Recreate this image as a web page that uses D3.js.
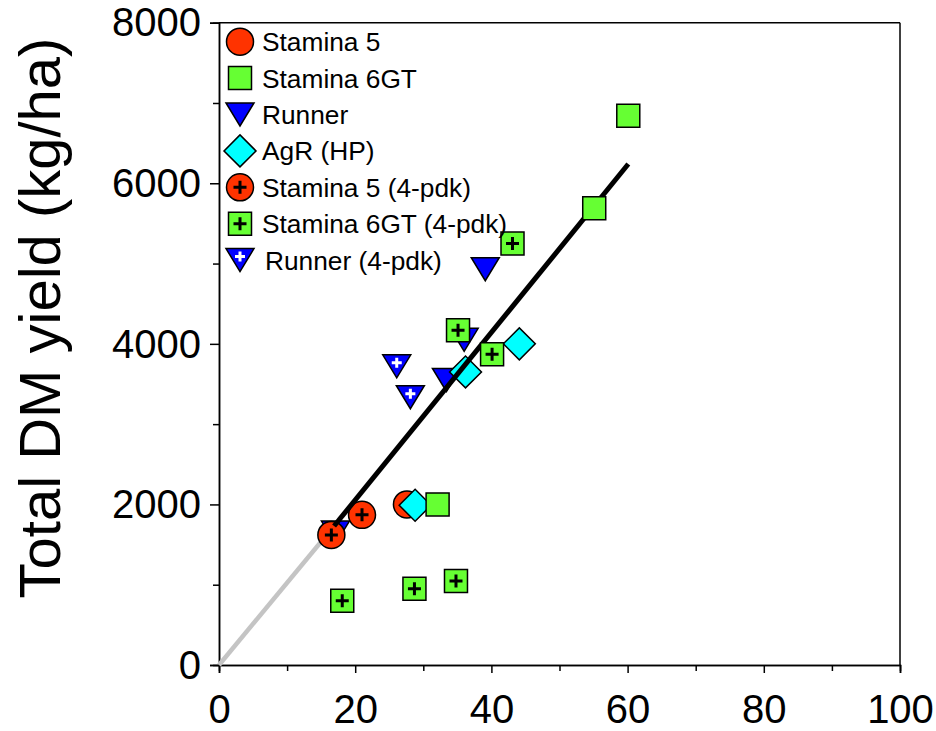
<!DOCTYPE html>
<html>
<head>
<meta charset="utf-8">
<script src="https://cdn.jsdelivr.net/npm/d3@7"></script>
<style>
  body { margin: 0; background: white; }
  text { font-family: "Liberation Sans", Arial, sans-serif; fill: black; }
</style>
</head>
<body>
<div id="container"></div>
<script>
// series values (x, total DM yield)
const stamina5X = [27.6]
const stamina5Y = [2000]
const stamina6X = [60.1, 55.1, 32.1]
const stamina6Y = [6840, 5690, 2000]
const runnerX = [17.1, 33.4, 39.1]
const runnerY = [1650, 3550, 4930]
const agrX = [44.1, 36.2, 28.8]
const agrY = [4000, 3650, 1990]
const stamina5pX = [16.5, 21.0]
const stamina5pY = [1620, 1870]
const stamina6pX = [43.1, 35.1, 40.1, 18.1, 28.7, 34.8]
const stamina6pY = [5250, 4170, 3870, 800, 950, 1045]
const runnerpX = [26.1, 28.1, 36.0]
const runnerpY = [3720, 3335, 4050]

// regression line
const fitX = [16.9, 60.1]
const fitY = [1731, 6240]
const extX = [0, 16.9]
const extY = [0, 1731]

const legendLabels = ['Stamina 5', 'Stamina 6GT', 'Runner', 'AgR (HP)', 'Stamina 5 (4-pdk)', 'Stamina 6GT (4-pdk)', 'Runner (4-pdk)']
const xTicks = [0, 20, 40, 60, 80, 100]
const xMinor = [10, 30, 50, 70, 90]
const yTicks = [0, 2000, 4000, 6000, 8000]
const yMinor = [1000, 3000, 5000, 7000]
const yTitle = 'Total DM yield (kg/ha)'

const w = 936
const h = 731
const plotLeft = 219, plotRight = 900, plotTop = 22.7, plotBottom = 665

const svg = d3.select('#container')
  .append('svg')
    .attr('width', w)
    .attr('height', h)

const scaleX = d3.scaleLinear().domain([0, 100]).range([plotLeft, plotRight])
const scaleY = d3.scaleLinear().domain([0, 8000]).range([plotBottom, plotTop])

const zip = (xs, ys) => xs.map((x, i) => [x, ys[i]])

// marker shapes
const circlePath = d3.symbol(d3.symbolCircle, Math.PI * 13.5 * 13.5)()
const squarePath = d3.symbol(d3.symbolSquare, 23 * 23)()
const diamondPath = d3.symbol(d3.symbolSquare, 22.6 * 22.6)()
const trianglePath = 'M-14,-11.5L14,-11.5L0,11.5Z'
const plusPath = 'M-6.5,0H6.5M0,-6.5V6.5'
const smallPlus = 'M-5,0H5M0,-5V5'

const drawMarker = (g, kind) => {
  if (kind === 'circle' || kind === 'circlePlus') {
    g.append('path').attr('d', circlePath).attr('fill', '#ff3300')
  } else if (kind === 'square' || kind === 'squarePlus') {
    g.append('path').attr('d', squarePath).attr('fill', '#66ff33')
  } else if (kind === 'triangle' || kind === 'trianglePlus') {
    g.append('path').attr('d', trianglePath).attr('fill', '#0000ff')
  } else if (kind === 'diamond') {
    g.append('path').attr('d', diamondPath).attr('transform', 'rotate(45)').attr('fill', '#00ffff')
  }
  g.select('path').attr('stroke', 'black').attr('stroke-width', 1.5)
  if (kind === 'circlePlus' || kind === 'squarePlus') {
    g.append('path').attr('d', plusPath).attr('stroke', 'black').attr('stroke-width', 3)
  }
  if (kind === 'trianglePlus') {
    g.append('path').attr('d', smallPlus).attr('transform', 'translate(0,-3.5)')
      .attr('stroke', 'white').attr('stroke-width', 3)
  }
}

const drawSeries = (xs, ys, kind) => {
  svg.append('g').selectAll('g')
    .data(zip(xs, ys))
    .enter()
    .append('g')
      .attr('transform', d => `translate(${scaleX(d[0])},${scaleY(d[1])})`)
      .each(function () { drawMarker(d3.select(this), kind) })
}

// axes
const axisY = d3.axisLeft(scaleY).tickValues(yTicks).tickSize(9).tickPadding(9).tickFormat(d3.format('d'))
const axisYMinor = d3.axisLeft(scaleY).tickValues(yMinor).tickSize(6).tickFormat('')
const axisX = d3.axisBottom(scaleX).tickValues(xTicks).tickSize(8).tickPadding(22).tickFormat(d3.format('d'))
const axisXMinor = d3.axisBottom(scaleX).tickValues(xMinor).tickSize(6).tickFormat('')

const styleAxis = sel => {
  sel.selectAll('path, line').attr('stroke', 'black').attr('stroke-width', 1.5)
  sel.selectAll('text').style('font-size', '40px').style('font-family', '"Liberation Sans", Arial, sans-serif').attr('fill', 'black')
}

svg.append('g').attr('transform', `translate(${plotLeft},0)`).call(axisY).call(styleAxis)
  .call(g => g.selectAll('text').attr('dy', '0.33em'))
svg.append('g').attr('transform', `translate(${plotLeft},0)`).call(axisYMinor).call(styleAxis)
svg.append('g').attr('transform', `translate(0,${plotBottom})`).call(axisX).call(styleAxis)
  .call(g => g.selectAll('text').attr('dy', '0.71em'))
svg.append('g').attr('transform', `translate(0,${plotBottom})`).call(axisXMinor).call(styleAxis)

// frame top and right
svg.append('line').attr('x1', plotLeft).attr('x2', plotRight).attr('y1', plotTop).attr('y2', plotTop)
  .attr('stroke', 'black').attr('stroke-width', 1.5)
svg.append('line').attr('x1', plotRight).attr('x2', plotRight).attr('y1', plotTop).attr('y2', plotBottom)
  .attr('stroke', 'black').attr('stroke-width', 1.5)

const line = d3.line().x(d => scaleX(d[0])).y(d => scaleY(d[1]))

// grey extension goes under the markers
svg.append('path').datum(zip(extX, extY)).attr('d', line)
  .attr('fill', 'none').attr('stroke', '#c4c4c4').attr('stroke-width', 4.5)

drawSeries(stamina5X, stamina5Y, 'circle')
drawSeries(runnerX, runnerY, 'triangle')
drawSeries(agrX, agrY, 'diamond')
drawSeries(stamina5pX, stamina5pY, 'circlePlus')
drawSeries(runnerpX, runnerpY, 'trianglePlus')

svg.append('path').datum(zip(fitX, fitY)).attr('d', line)
  .attr('fill', 'none').attr('stroke', 'black').attr('stroke-width', 5)

drawSeries(stamina6X, stamina6Y, 'square')
drawSeries(stamina6pX, stamina6pY, 'squarePlus')

// legend
const legendKinds = ['circle', 'square', 'triangle', 'diamond', 'circlePlus', 'squarePlus', 'trianglePlus']
const legend = svg.append('g')
legendLabels.forEach((label, i) => {
  const cy = 41.7 + i * 36.4
  const g = legend.append('g').attr('transform', `translate(240,${cy})`)
  drawMarker(g, legendKinds[i])
  legend.append('text')
    .attr('x', i === 6 ? 265 : 262)
    .attr('y', cy + 9.5)
    .style('font-size', '26.3px')
    .text(label)
})

// y title
svg.append('text')
  .attr('transform', 'translate(60,318) rotate(-90)')
  .attr('text-anchor', 'middle')
  .style('font-size', '58px')
  .text(yTitle)
</script>
</body>
</html>
